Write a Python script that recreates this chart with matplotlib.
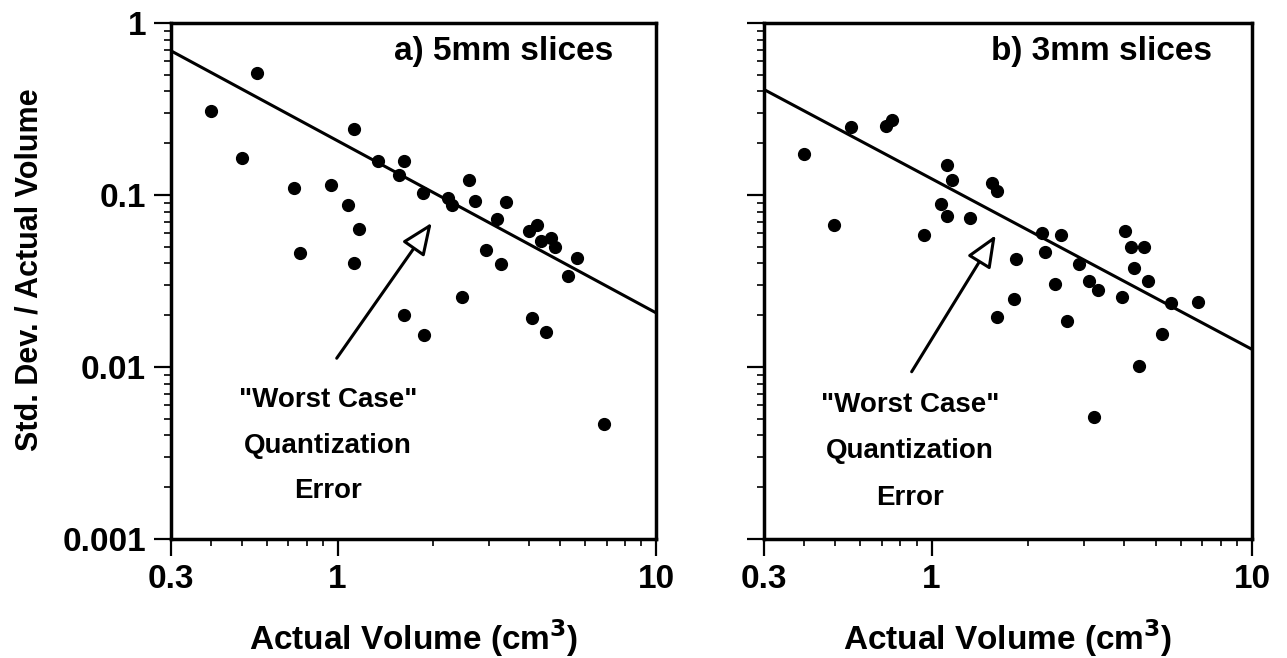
import matplotlib
matplotlib.use('Agg')
import matplotlib.pyplot as plt
import numpy as np
from matplotlib.ticker import FixedLocator, FixedFormatter, LogLocator, NullFormatter

# values (volume in cm3, std. dev. / volume)
vol_5mm = [0.40, 0.56, 0.50, 1.13, 0.73, 0.955, 1.08, 1.17, 0.76, 1.13,
           1.34, 1.62, 1.56, 1.85, 2.23, 2.29, 2.58, 2.70, 3.37, 3.16,
           3.99, 4.22, 4.37, 4.67, 4.82, 5.66, 5.29, 2.93, 3.25, 2.46,
           1.62, 1.87, 4.07, 4.52, 6.87]
err_5mm = [0.308, 0.514, 0.163, 0.243, 0.110, 0.115, 0.087, 0.063, 0.046, 0.040,
           0.158, 0.158, 0.130, 0.103, 0.0965, 0.0875, 0.123, 0.092, 0.091, 0.0725,
           0.062, 0.067, 0.054, 0.056, 0.050, 0.043, 0.0337, 0.048, 0.0396, 0.0256,
           0.020, 0.0154, 0.0193, 0.016, 0.00464]

vol_3mm = [0.401, 0.559, 0.721, 0.751, 0.497, 1.115, 1.159, 1.068, 1.118, 1.316,
           0.949, 1.547, 1.601, 2.207, 2.536, 2.265, 1.839, 4.02, 4.19, 4.61,
           4.28, 4.75, 2.886, 3.10, 2.429, 3.30, 1.809, 1.597, 2.653, 3.94,
           5.58, 6.80, 5.23, 4.45, 3.21]
err_3mm = [0.174, 0.247, 0.251, 0.272, 0.0665, 0.150, 0.122, 0.0888, 0.0756, 0.0733,
           0.0584, 0.118, 0.105, 0.060, 0.0582, 0.0463, 0.0424, 0.0616, 0.0497, 0.0495,
           0.0376, 0.0318, 0.0395, 0.0316, 0.0302, 0.028, 0.0247, 0.0194, 0.0184, 0.0254,
           0.0234, 0.0239, 0.0155, 0.0101, 0.0051]

# "worst case" quantization error lines: value at 1 cm3 and log-log slope
fit_5mm = (0.2065, -1.0)
fit_3mm = (0.1243, -0.992)

# arrow tail / tip (data coords)
arrow_5mm = ((0.994, 0.01124), (1.976, 0.0689))
arrow_3mm = ((0.867, 0.00938), (1.586, 0.0584))

x_ticks = [0.3, 1, 10]
x_tick_labels = ['0.3', '1', '10']
y_ticks = [0.001, 0.01, 0.1, 1]
y_tick_labels = ['0.001', '0.01', '0.1', '1']

plt.rcParams['font.family'] = ['Liberation Sans', 'DejaVu Sans']
plt.rcParams['font.weight'] = 'bold'


def draw_panel(ax, vol, err, fit, arrow, title, text_x, text_y, title_x, show_ylabels):
    ax.set_xscale('log')
    ax.set_yscale('log')
    ax.set_xlim(0.3, 10)
    ax.set_ylim(0.001, 1)

    # fit line
    xs = np.array([0.3, 10])
    ax.plot(xs, fit[0] * xs ** fit[1], color='black', lw=2.2, zorder=2)

    ax.plot(vol, err, 'o', color='black', ms=8.5, zorder=3)

    ax.annotate('', xy=arrow[1], xytext=arrow[0],
                arrowprops=dict(arrowstyle='-|>,head_length=1.3,head_width=0.55',
                                fc='white', ec='black', lw=2.2,
                                mutation_scale=15, shrinkA=0, shrinkB=0))

    for line, y in zip(['"Worst Case"', 'Quantization', 'Error'], text_y):
        ax.text(text_x, y, line, transform=ax.transAxes, ha='center',
                va='baseline', fontsize=20, fontweight='bold')

    ax.text(title_x, 0.928, title, transform=ax.transAxes, ha='right',
            va='baseline', fontsize=24, fontweight='bold')

    ax.xaxis.set_major_locator(FixedLocator(x_ticks))
    ax.xaxis.set_major_formatter(FixedFormatter(x_tick_labels))
    ax.xaxis.set_minor_locator(LogLocator(base=10, subs=np.arange(2, 10)))
    ax.xaxis.set_minor_formatter(NullFormatter())
    ax.yaxis.set_major_locator(FixedLocator(y_ticks))
    ax.yaxis.set_major_formatter(FixedFormatter(y_tick_labels))
    ax.yaxis.set_minor_locator(LogLocator(base=10, subs=np.arange(2, 10)))
    ax.yaxis.set_minor_formatter(NullFormatter())

    ax.tick_params(which='major', direction='out', length=12, width=1.6,
                   labelsize=24, pad=6)
    ax.tick_params(which='minor', direction='out', length=5, width=1.2)
    ax.tick_params(axis='y', labelleft=show_ylabels)
    for spine in ax.spines.values():
        spine.set_linewidth(2.5)

    ax.set_xlabel('Actual Volume (cm$^3$)', fontsize=24, fontweight='bold', labelpad=16)


def main():
    fig = plt.figure(figsize=(12.87, 6.58), dpi=100)
    ax1 = fig.add_axes([0.1329, 0.1809, 0.3768, 0.7842])
    ax2 = fig.add_axes([0.5936, 0.1809, 0.3792, 0.7842])

    draw_panel(ax1, vol_5mm, err_5mm, fit_5mm, arrow_5mm, 'a) 5mm slices',
               0.3237, [0.2564, 0.1661, 0.0789], 0.911, True)
    draw_panel(ax2, vol_3mm, err_3mm, fit_3mm, arrow_3mm, 'b) 3mm slices',
               0.2992, [0.2467, 0.1564, 0.0659], 0.918, False)

    ax1.set_ylabel('Std. Dev. / Actual Volume', fontsize=22, fontweight='bold')
    ax1.yaxis.set_label_coords(-0.26, 0.521)

    fig.savefig('out.png', dpi=100, facecolor='white')


if __name__ == "__main__":
    main()
